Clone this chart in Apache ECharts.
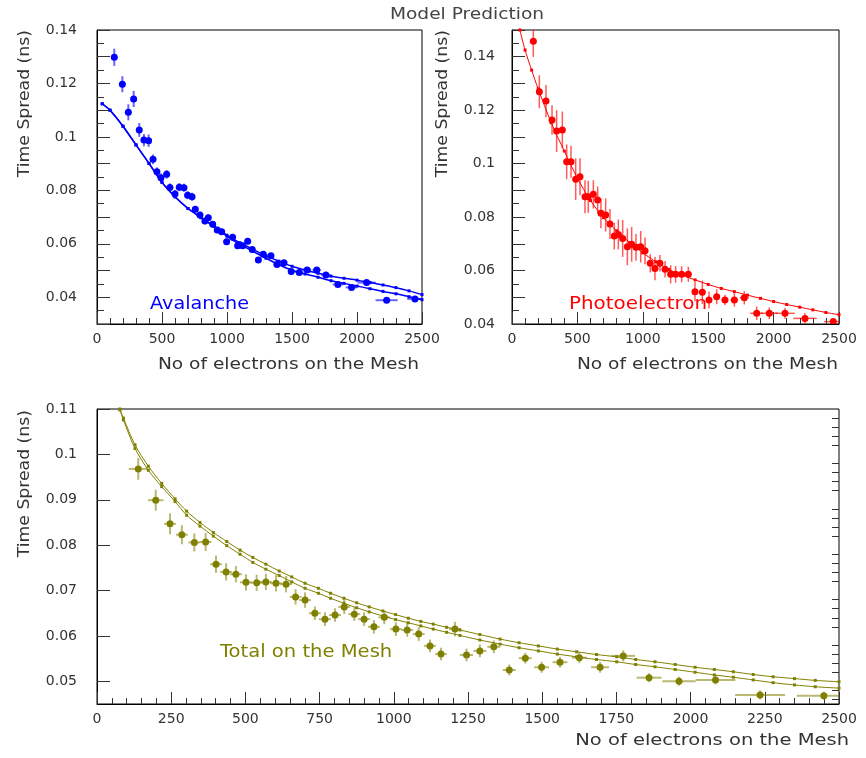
<!DOCTYPE html>
<html>
<head>
<meta charset="utf-8">
<script src="https://cdn.jsdelivr.net/npm/echarts@6/dist/echarts.min.js"></script>
<style>
  html, body { margin: 0; padding: 0; background: #fff; }
  #main { width: 866px; height: 758px; }
</style>
</head>
<body>
<div id="main"></div>
<script>
// -- avalanche (top left) --
let avalX = [133, 195, 241, 282, 325, 361, 397, 431, 461, 492, 536, 561, 600, 633, 669, 697, 731, 756, 792, 830,
  856, 890, 925, 959, 997, 1043, 1082, 1120, 1159, 1194, 1241, 1279, 1338, 1384, 1438, 1494, 1556, 1617, 1690, 1761,
  1853, 1958, 2074, 2228, 2446];
let avalY = [0.1298, 0.1197, 0.1092, 0.1142, 0.1026, 0.0988, 0.0986, 0.0916, 0.0870, 0.0847, 0.0860, 0.0811, 0.0786,
  0.0812, 0.0810, 0.0782, 0.0776, 0.0729, 0.0708, 0.0685, 0.0698, 0.0673, 0.0652, 0.0645, 0.0608, 0.0625, 0.0593,
  0.0593, 0.0610, 0.0579, 0.0539, 0.0561, 0.0555, 0.0523, 0.0529, 0.0496, 0.0493, 0.0502, 0.0502, 0.0483, 0.0448,
  0.0437, 0.0455, 0.0389, 0.0394];
let avalXErr = [18, 18, 18, 18, 18, 18, 18, 18, 18, 18, 18, 18, 18, 18, 18, 18, 18, 18, 18, 18, 18, 18, 18, 18, 18,
  18, 20, 20, 20, 20, 20, 22, 22, 22, 25, 25, 28, 30, 32, 35, 40, 45, 70, 85, 60];
let avalYErr = [0.0032, 0.003, 0.003, 0.003, 0.0026, 0.0023, 0.0023, 0.0018, 0.0016, 0.0016, 0.0016, 0.0015, 0.0015,
  0.0015, 0.0015, 0.0015, 0.0015, 0.0012, 0.0012, 0.0012, 0.0012, 0.0012, 0.0012, 0.0012, 0.0012, 0.0012, 0.0012,
  0.0012, 0.0012, 0.0012, 0.001, 0.001, 0.001, 0.001, 0.001, 0.001, 0.001, 0.001, 0.001, 0.0008, 0.0008, 0.0008,
  0.0008, 0.0006, 0.0006];
let avalModelX = [40, 100, 200, 300, 400, 500, 600, 700, 800, 900, 1000, 1100, 1200, 1300, 1400, 1500, 1600, 1700,
  1800, 1900, 2000, 2100, 2200, 2300, 2400, 2500];
let avalModelHi = [0.1124, 0.1100, 0.1040, 0.0970, 0.0901, 0.0830, 0.0776, 0.0732, 0.0698, 0.0667, 0.0632, 0.0604,
  0.0579, 0.0555, 0.0535, 0.0516, 0.0502, 0.0490, 0.0479, 0.0471, 0.0464, 0.0455, 0.0446, 0.0436, 0.0424, 0.0410];
let avalModelLo = [0.1124, 0.1100, 0.1040, 0.0970, 0.0901, 0.0830, 0.0776, 0.0732, 0.0698, 0.0665, 0.0628, 0.0598,
  0.0572, 0.0546, 0.0522, 0.0501, 0.0487, 0.0475, 0.0462, 0.0452, 0.0442, 0.0432, 0.0422, 0.0413, 0.0402, 0.0391];

// -- photoelectron (top right) --
let photoX = [163, 209, 260, 306, 341, 385, 418, 451, 487, 520, 558, 583, 622, 655, 680, 716, 749, 782, 813, 846,
  882, 915, 948, 984, 1017, 1057, 1093, 1131, 1170, 1213, 1251, 1297, 1348, 1399, 1455, 1506, 1565, 1628, 1700, 1776,
  1871, 1967, 2087, 2240, 2456];
let photoY = [0.1458, 0.1269, 0.1234, 0.1163, 0.1122, 0.1126, 0.1007, 0.1007, 0.0942, 0.0951, 0.0876, 0.0876, 0.0885,
  0.0864, 0.0814, 0.0808, 0.0774, 0.0729, 0.0735, 0.0720, 0.0689, 0.0698, 0.0687, 0.0689, 0.0674, 0.0627, 0.0608,
  0.0627, 0.0605, 0.0586, 0.0586, 0.0586, 0.0586, 0.0521, 0.0519, 0.0490, 0.0502, 0.0490, 0.0490, 0.0498, 0.0440,
  0.0440, 0.0440, 0.0421, 0.0409];
let photoXErr = [25, 18, 18, 18, 18, 18, 18, 18, 18, 18, 18, 18, 18, 18, 18, 18, 18, 18, 18, 18, 18, 18, 18, 18, 18,
  20, 20, 20, 20, 20, 20, 20, 20, 22, 22, 22, 25, 25, 28, 35, 50, 65, 75, 90, 70];
let photoYErr = [0.0059, 0.0062, 0.006, 0.0055, 0.0078, 0.0069, 0.0065, 0.006, 0.0078, 0.0069, 0.0062, 0.006, 0.0053,
  0.005, 0.0056, 0.0062, 0.0056, 0.005, 0.0056, 0.0069, 0.0069, 0.0065, 0.005, 0.0059, 0.005, 0.0034, 0.0044, 0.0031,
  0.0031, 0.0034, 0.0031, 0.003, 0.0028, 0.0037, 0.0044, 0.0031, 0.0028, 0.0019, 0.0025, 0.0025, 0.0025, 0.0022,
  0.002, 0.002, 0.001];
let photoModelX = [60, 100, 150, 200, 300, 400, 500, 600, 700, 800, 900, 1000, 1100, 1200, 1300, 1400, 1500, 1600,
  1700, 1800, 1900, 2000, 2100, 2200, 2300, 2400, 2500];
let photoModelY = [0.1500, 0.1425, 0.1350, 0.1280, 0.1153, 0.1047, 0.0946, 0.0862, 0.0798, 0.0749, 0.0705, 0.0666,
  0.0633, 0.0604, 0.0583, 0.0565, 0.0548, 0.0533, 0.0521, 0.0508, 0.0496, 0.0484, 0.0473, 0.0463, 0.0453, 0.0443,
  0.0435];

// -- total on the mesh (bottom) --
let totalX = [139, 198, 246, 286, 328, 366, 401, 435, 468, 502, 538, 569, 603, 637, 669, 701, 734, 768, 802, 833,
  867, 900, 933, 968, 1007, 1045, 1084, 1122, 1159, 1206, 1245, 1290, 1337, 1389, 1443, 1498, 1560, 1625, 1695, 1773,
  1860, 1961, 2084, 2234, 2449];
let totalY = [0.0968, 0.0899, 0.0847, 0.0823, 0.0806, 0.0807, 0.0758, 0.0741, 0.0736, 0.0718, 0.0717, 0.0719, 0.0716,
  0.0714, 0.0686, 0.0679, 0.0650, 0.0637, 0.0646, 0.0664, 0.0648, 0.0637, 0.0620, 0.0641, 0.0615, 0.0613, 0.0604,
  0.0578, 0.0560, 0.0615, 0.0558, 0.0567, 0.0576, 0.0525, 0.0551, 0.0531, 0.0542, 0.0552, 0.0531, 0.0556, 0.0508,
  0.0500, 0.0503, 0.0470, 0.0468];
let totalXErr = [32, 26, 20, 20, 20, 20, 20, 20, 20, 20, 20, 20, 20, 20, 20, 20, 20, 20, 20, 20, 20, 20, 20, 20, 20,
  20, 20, 20, 20, 20, 22, 22, 22, 22, 22, 25, 25, 25, 30, 40, 42, 56, 67, 84, 91];
let totalYErr = [0.0024, 0.0023, 0.0023, 0.0021, 0.002, 0.002, 0.0019, 0.0019, 0.0018, 0.0018, 0.0018, 0.0018, 0.0018,
  0.0018, 0.0017, 0.0017, 0.0015, 0.0015, 0.0015, 0.0016, 0.0015, 0.0015, 0.0015, 0.0015, 0.0015, 0.0015, 0.0015,
  0.0014, 0.0014, 0.0016, 0.0014, 0.0014, 0.0014, 0.0012, 0.0012, 0.0012, 0.0012, 0.0012, 0.0012, 0.0012, 0.001,
  0.001, 0.001, 0.001, 0.0009];
let totalModelX = [77, 89, 128, 173, 218, 263, 302, 347, 392, 437, 482, 525, 569, 614, 656, 701, 746, 787, 832, 875,
  917, 963, 1006, 1049, 1091, 1133, 1178, 1223, 1290, 1358, 1422, 1487, 1551, 1616, 1683, 1751, 1815, 1880, 1948,
  2015, 2080, 2144, 2211, 2278, 2350, 2420, 2500];
let totalModelHi = [0.1100, 0.1080, 0.1021, 0.0974, 0.0936, 0.0902, 0.0875, 0.0850, 0.0828, 0.0808, 0.0789, 0.0773,
  0.0758, 0.0743, 0.0730, 0.0716, 0.0705, 0.0694, 0.0683, 0.0673, 0.0664, 0.0655, 0.0647, 0.0639, 0.0632, 0.0626,
  0.0619, 0.0613, 0.0603, 0.0593, 0.0585, 0.0578, 0.0571, 0.0565, 0.0559, 0.0554, 0.0548, 0.0543, 0.0537, 0.0531,
  0.0526, 0.0521, 0.0515, 0.0510, 0.0506, 0.0502, 0.0499];
let totalModelLo = [0.1098, 0.1076, 0.1013, 0.0965, 0.0929, 0.0896, 0.0866, 0.0842, 0.0820, 0.0799, 0.0780, 0.0762,
  0.0747, 0.0733, 0.0719, 0.0705, 0.0694, 0.0683, 0.0672, 0.0662, 0.0653, 0.0644, 0.0636, 0.0629, 0.0622, 0.0615,
  0.0608, 0.0601, 0.0591, 0.0582, 0.0574, 0.0567, 0.0560, 0.0554, 0.0548, 0.0543, 0.0537, 0.0532, 0.0526, 0.0520,
  0.0514, 0.0509, 0.0503, 0.0497, 0.0492, 0.0488, 0.0485];

// tick values for the bottom y axis (0.002 steps, labels every 0.01)
let totalYLabels = [0.05, 0.06, 0.07, 0.08, 0.09, 0.1, 0.11];
let totalYMinor = [0.046, 0.048, 0.052, 0.054, 0.056, 0.058, 0.062, 0.064, 0.066, 0.068, 0.072, 0.074, 0.076, 0.078,
  0.082, 0.084, 0.086, 0.088, 0.092, 0.094, 0.096, 0.098, 0.102, 0.104, 0.106, 0.108];

const BLUE = '#0000ff', RED = '#ff0000', OLIVE = '#808000';
const FONT = '"DejaVu Sans", sans-serif';

function pts(xs, ys, ex, ey) {
  return xs.map((x, i) => [x, ys[i], ex[i], ey[i]]);
}

function line(xs, ys) {
  return xs.map((x, i) => [x, ys[i]]);
}

function errSeries(idx, data, color, barWidth, barOpacity) {
  return {
    type: 'custom',
    xAxisIndex: idx,
    yAxisIndex: idx,
    clip: true,
    z: 3,
    encode: {x: 0, y: 1},
    data: data,
    renderItem: function (params, api) {
      let x = api.value(0), y = api.value(1), ex = api.value(2), ey = api.value(3);
      let c = api.coord([x, y]);
      let l = api.coord([x - ex, y]);
      let r = api.coord([x + ex, y]);
      let t = api.coord([x, y + ey]);
      let b = api.coord([x, y - ey]);
      let st = {stroke: color, lineWidth: barWidth, opacity: barOpacity};
      return {
        type: 'group',
        children: [
          {type: 'line', shape: {x1: l[0], y1: c[1], x2: r[0], y2: c[1]}, style: st},
          {type: 'line', shape: {x1: c[0], y1: t[1], x2: c[0], y2: b[1]}, style: st},
          {type: 'circle', shape: {cx: c[0], cy: c[1], r: 3.5}, style: {fill: color}}
        ]
      };
    }
  };
}

function modelSeries(idx, data, color, width, size) {
  return {
    type: 'line',
    xAxisIndex: idx,
    yAxisIndex: idx,
    data: data,
    smooth: 0.3,
    symbol: 'rect',
    symbolSize: size,
    showSymbol: true,
    clip: true,
    silent: true,
    z: 2,
    lineStyle: {color: color, width: width},
    itemStyle: {color: color}
  };
}

function xAxis(idx, interval, majorLen) {
  return {
    type: 'value',
    gridIndex: idx,
    min: 0,
    max: 2500,
    interval: interval,
    axisLine: {lineStyle: {color: '#000', width: 1}},
    axisTick: {inside: true, length: majorLen, lineStyle: {color: '#333'}},
    minorTick: {show: true, splitNumber: 5, length: 6, lineStyle: {color: '#333'}},
    splitLine: {show: false},
    axisLabel: {
      color: '#333', fontFamily: FONT, fontSize: 14, margin: 8,
      formatter: function (v) { return String(v); }
    }
  };
}

function yAxisTop(idx, min, max, margin) {
  return {
    type: 'value',
    gridIndex: idx,
    min: min,
    max: max,
    interval: 0.01,
    axisLine: {lineStyle: {color: '#000', width: 1}},
    axisTick: {inside: true, length: 13, lineStyle: {color: '#333'}},
    minorTick: {show: true, splitNumber: 2, length: 7, lineStyle: {color: '#333'}},
    splitLine: {show: false},
    axisLabel: {
      color: '#333', fontFamily: FONT, fontSize: 14, margin: margin,
      formatter: function (v) {
        return Math.round(v * 1000) % 20 === 0 ? String(+v.toFixed(3)) : '';
      }
    }
  };
}

let gridBase = {show: true, borderColor: '#000', borderWidth: 1, backgroundColor: '#fff', containLabel: false,
  outerBoundsMode: 'none'};

function text(str, x, y, opts) {
  return {
    type: 'text',
    x: x,
    y: y,
    rotation: opts.rotation || 0,
    scaleX: opts.scaleX || 1,
    silent: true,
    style: {
      text: str,
      font: (opts.size || 15) + 'px ' + FONT,
      fill: opts.color || '#333',
      textAlign: opts.align || 'left',
      align: opts.align || 'left',
      textVerticalAlign: 'middle',
      verticalAlign: 'middle'
    }
  };
}

let option = {
  animation: false,
  backgroundColor: '#fff',
  grid: [
    Object.assign({left: 97, top: 30, width: 325, height: 294}, gridBase),
    Object.assign({left: 512, top: 30, width: 327, height: 294}, gridBase),
    Object.assign({left: 97, top: 409, width: 742, height: 295}, gridBase)
  ],
  xAxis: [
    xAxis(0, 500, 12),
    xAxis(1, 500, 12),
    xAxis(2, 250, 12)
  ],
  yAxis: [
    yAxisTop(0, 0.03, 0.14, 20),
    yAxisTop(1, 0.04, 0.15, 17),
    {
      type: 'value',
      gridIndex: 2,
      min: 0.045,
      max: 0.11,
      axisLine: {lineStyle: {color: '#000', width: 1}},
      axisTick: {inside: true, length: 13, customValues: totalYLabels, lineStyle: {color: '#333'}},
      splitLine: {show: false},
      axisLabel: {
        color: '#333', fontFamily: FONT, fontSize: 14, margin: 20, customValues: totalYLabels,
        formatter: function (v) { return String(+v.toFixed(3)); }
      }
    },
    {
      // minor ticks of the bottom y axis
      type: 'value',
      gridIndex: 2,
      min: 0.045,
      max: 0.11,
      axisLine: {show: false},
      axisTick: {inside: true, length: 7, customValues: totalYMinor, lineStyle: {color: '#333'}},
      axisLabel: {show: false},
      splitLine: {show: false}
    }
  ],
  series: [
    modelSeries(0, line(avalModelX, avalModelHi), BLUE, 1.5, 3),
    modelSeries(0, line(avalModelX, avalModelLo), BLUE, 1.5, 3),
    errSeries(0, pts(avalX, avalY, avalXErr, avalYErr), BLUE, 2, 0.6),

    modelSeries(1, line(photoModelX, photoModelY), RED, 1, 3),
    errSeries(1, pts(photoX, photoY, photoXErr, photoYErr), RED, 1.5, 0.65),

    modelSeries(2, line(totalModelX, totalModelHi), OLIVE, 1, 3),
    modelSeries(2, line(totalModelX, totalModelLo), OLIVE, 1, 3),
    errSeries(2, pts(totalX, totalY, totalXErr, totalYErr), OLIVE, 2, 0.55)
  ],
  graphic: [
    text('Model Prediction', 467, 15, {align: 'center', scaleX: 1.24, color: '#444'}),

    text('Time Spread (ns)', 25, 30, {align: 'right', rotation: Math.PI / 2, scaleX: 1.15}),
    text('Time Spread (ns)', 443, 30, {align: 'right', rotation: Math.PI / 2, scaleX: 1.15}),
    text('Time Spread (ns)', 25, 410, {align: 'right', rotation: Math.PI / 2, scaleX: 1.15}),

    text('No of electrons on the Mesh', 419, 365, {align: 'right', scaleX: 1.24}),
    text('No of electrons on the Mesh', 838, 365, {align: 'right', scaleX: 1.24}),
    text('No of electrons on the Mesh', 849, 741, {align: 'right', scaleX: 1.3}),

    text('Avalanche', 150, 305, {size: 17, scaleX: 1.13, color: BLUE}),
    text('Photoelectron', 569, 305, {size: 17, scaleX: 1.17, color: RED}),
    text('Total on the Mesh', 220, 653, {size: 17, scaleX: 1.15, color: OLIVE})
  ]
};

let myChart = echarts.init(document.getElementById('main'), null, {renderer: 'canvas'});
myChart.setOption(option);
</script>
</body>
</html>
